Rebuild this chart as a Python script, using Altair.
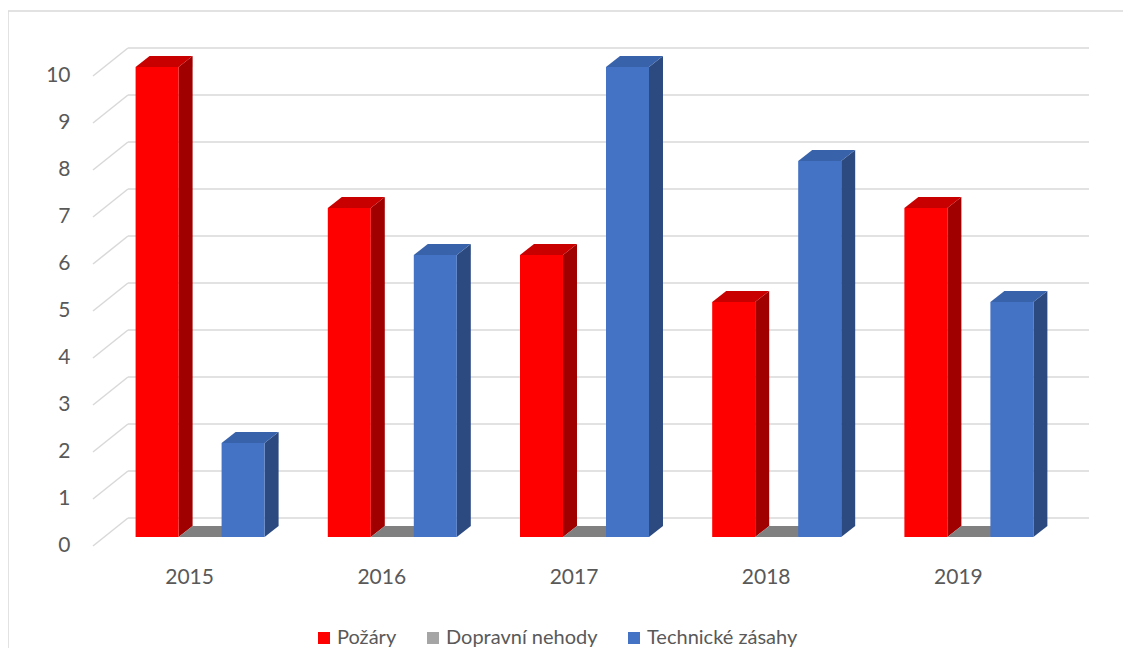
import altair as alt
import pandas as pd

# ---- data ----
years = [2015, 2016, 2017, 2018, 2019]
series = ["Požáry", "Dopravní nehody", "Technické zásahy"]
pozary = [10, 7, 6, 5, 7]
dopravni = [0, 0, 0, 0, 0]
technicke = [2, 6, 10, 8, 5]
y_ticks = [0, 1, 2, 3, 4, 5, 6, 7, 8, 9, 10]

# ---- style ----
front_colors = ["#FF0000", "#A5A5A5", "#4472C4"]
top_colors = ["#C80000", "#808080", "#3862AA"]
side_colors = ["#A00000", "#6E6E6E", "#2C4A80"]
FONT = "Lato"
TXT = "#595959"
GRID = "#D9D9D9"

PLOT_W, PLOT_H = 996, 499
X_DOM = [2014.4428, 2019.6249]
Y_DOM = [-0.1915, 10.4255]
sx = PLOT_W / (X_DOM[1] - X_DOM[0])
sy = PLOT_H / (Y_DOM[1] - Y_DOM[0])
BAR_W = 43 / sx
BAR_DX, BAR_DY = 14 / sx, 11 / sy        # bar depth
WALL_DX, WALL_DY = 24 / sx, 19 / sy      # bar plane -> back wall
FRONT_DX, FRONT_DY = 11 / sx, 9 / sy     # front edge -> bar plane

values = [pozary, dopravni, technicke]
fronts, sides, tops = [], [], []
for k, s in enumerate(series):
    for i, yr in enumerate(years):
        v = values[k][i]
        x0 = yr + (k - 1.5) * BAR_W
        x1 = x0 + BAR_W
        bid = f"{k}-{i}"
        fronts.append(dict(series=s, x0=x0, x1=x1, y0=0, y1=v))
        sides.append(dict(bid=bid, c=side_colors[k], xv=x1, ya=0, yb=v))
        sides.append(dict(bid=bid, c=side_colors[k], xv=x1 + BAR_DX, ya=BAR_DY, yb=v + BAR_DY))
        tops.append(dict(bid=bid, c=top_colors[k], yv=v, xa=x0, xb=x1))
        tops.append(dict(bid=bid, c=top_colors[k], yv=v + BAR_DY, xa=x0 + BAR_DX, xb=x1 + BAR_DX))
front_df = pd.DataFrame(fronts)
side_df = pd.DataFrame(sides)
top_df = pd.DataFrame(tops)

grid_df = pd.DataFrame({
    "xf": [X_DOM[0]] * len(y_ticks),
    "xb": [years[0] - 0.5 + WALL_DX] * len(y_ticks),
    "xe": [years[-1] + 0.5 + WALL_DX] * len(y_ticks),
    "yf": [t - FRONT_DY for t in y_ticks],
    "yb": [t + WALL_DY for t in y_ticks],
})

xs = alt.Scale(domain=X_DOM, nice=False, zero=False)
ys = alt.Scale(domain=Y_DOM, nice=False, zero=False)
xaxis = alt.Axis(values=years, format="d", labelOffset=-11, domain=False, ticks=False,
                 grid=False, labelPadding=20, labelFont=FONT, labelFontSize=21,
                 labelColor=TXT, title=None)
yaxis = alt.Axis(values=y_ticks, labelOffset=9, domain=False, ticks=False, grid=False,
                 labelPadding=23, labelFont=FONT, labelFontSize=21, labelColor=TXT,
                 title=None)


def X(f, **kw):
    return alt.X(f, type="quantitative", scale=xs, axis=xaxis, **kw)


def Y(f, **kw):
    return alt.Y(f, type="quantitative", scale=ys, axis=yaxis, **kw)


frame = alt.Chart(pd.DataFrame({"a": [0]})).mark_rect(
    fill=None, stroke=GRID, strokeWidth=1.5
).encode(x=alt.value(-85), x2=alt.value(1200), y=alt.value(-36), y2=alt.value(800))

back = alt.Chart(grid_df).mark_rule(color=GRID, strokeWidth=1.5).encode(
    x=X("xb"), x2="xe", y=Y("yb"))
diag = alt.Chart(grid_df).mark_rule(color=GRID, strokeWidth=1.5).encode(
    x=X("xf"), x2="xb", y=Y("yf"), y2="yb")

side = alt.Chart(side_df).mark_area(orient="vertical").encode(
    x=X("xv"), y=Y("ya", stack=None), y2="yb", detail="bid:N",
    fill=alt.Fill("c:N", scale=None))
top = alt.Chart(top_df).mark_area(orient="horizontal").encode(
    y=Y("yv"), x=X("xa", stack=None), x2="xb", detail="bid:N",
    fill=alt.Fill("c:N", scale=None))
front = alt.Chart(front_df).mark_rect().encode(
    x=X("x0"), x2="x1", y=Y("y0"), y2="y1",
    color=alt.Color("series:N", scale=alt.Scale(domain=series, range=front_colors),
                    legend=alt.Legend(title=None, orient="none", legendX=221, legendY=581,
                                      direction="horizontal", symbolType="square",
                                      symbolSize=144, symbolStrokeWidth=0,
                                      labelFont=FONT, labelFontSize=20, labelColor=TXT,
                                      labelOffset=3, columnPadding=26)))

chart = alt.layer(frame, back, diag, side, top, front).properties(
    width=PLOT_W, height=PLOT_H,
    autosize=alt.AutoSizeParams(type="none"),
    padding={"left": 85, "top": 39, "right": 34, "bottom": 102},
).configure_view(stroke=None)

chart.save("out.html", embed_options={"renderer": "svg", "actions": False})
